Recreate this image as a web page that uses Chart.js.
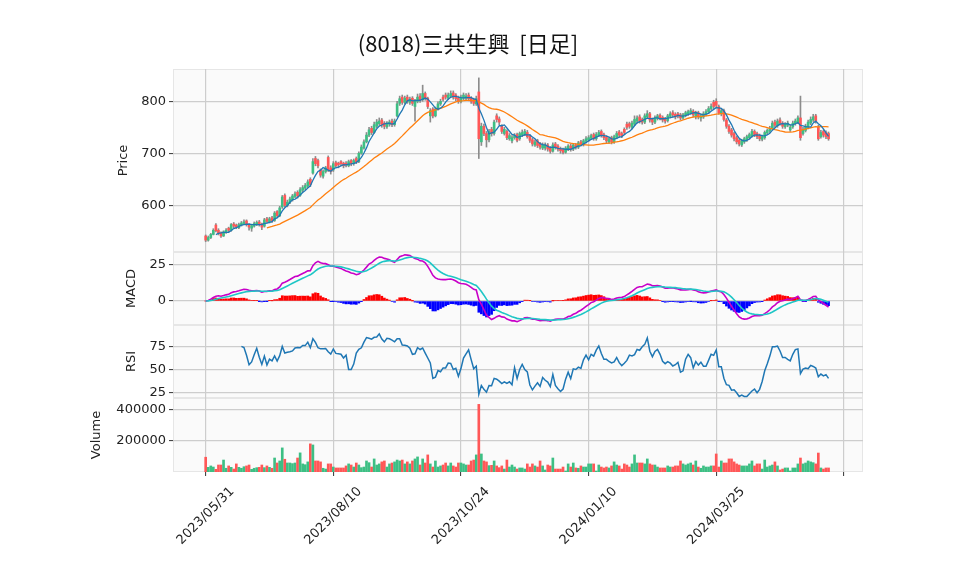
<!DOCTYPE html>
<html><head><meta charset="utf-8">
<script src="https://cdn.jsdelivr.net/npm/chart.js@4.4.1/dist/chart.umd.min.js"></script>
<style>
html,body{margin:0;padding:0;background:#fff;}
#wrap{position:relative;width:958px;height:575px;overflow:hidden;}
canvas{position:absolute;left:0;top:0;}
</style></head><body>
<div id="wrap">
<canvas id="cPrice" width="958" height="575"></canvas>
<canvas id="cMacd" width="958" height="575"></canvas>
<canvas id="cRsi" width="958" height="575"></canvas>
<canvas id="cVol" width="958" height="575"></canvas>
</div>
<script>
const chartTitle = '(8018)三共生興  [日足]';
const tickIndex = [0, 50, 100, 150, 200, 250];
const tickLabels = ['2023/05/31', '2023/08/10', '2023/10/24', '2024/01/10', '2024/03/25', ''];
const priceTicks = [600, 700, 800];
const macdTicks = [0, 25];
const rsiTicks = [25, 50, 75];
const volTicks = [200000, 400000];

const opens = [
541,533,538,544,562,552,547,541,548,556,
552,564,562,557,562,565,570,563,556,560,
563,568,564,560,574,568,576,571,588,580,
597,619,600,606,611,617,625,619,629,633,
637,650,662,690,686,668,656,665,692,672,
668,682,681,684,681,681,676,686,680,690,
684,700,710,722,735,748,740,752,757,764,
758,751,756,762,755,772,796,808,798,808,
798,806,790,800,810,803,815,806,772,785,
772,786,795,808,812,806,810,816,812,806,
800,806,806,812,806,803,795,818,722,752,
738,726,746,738,772,766,752,738,742,728,
724,730,736,728,735,737,740,733,726,716,
724,718,710,710,716,710,704,718,714,709,
707,702,708,714,708,716,712,722,717,723,
726,729,736,728,735,742,736,731,722,730,
722,731,741,738,746,756,757,750,756,762,
770,765,760,770,776,765,760,767,773,769,
766,763,771,778,775,776,774,768,773,776,
778,781,770,778,768,770,775,780,786,798,
800,790,776,782,764,752,745,738,730,725,
716,722,726,730,734,742,738,734,727,730,
739,743,748,760,753,764,758,751,754,745,
751,757,760,768,738,744,750,758,764,772,
750,732,742,740,738];
const highs = [
543,541,546,555,565,555,549,551,555,558,
565,567,564,566,569,572,572,565,563,568,
570,571,566,575,577,577,579,588,590,598,
619,622,610,616,621,626,628,634,638,642,
649,653,690,694,689,670,668,675,695,676,
684,685,683,686,683,684,687,688,689,693,
703,716,726,740,750,752,760,765,768,767,
761,761,764,766,766,800,810,812,810,812,
808,809,804,814,815,831,818,808,786,788,
789,799,804,812,816,816,820,820,815,810,
812,816,815,816,809,806,810,845,758,756,
742,746,750,764,776,770,755,750,745,738,
734,738,739,741,745,746,744,736,729,726,
727,721,720,720,719,713,720,721,717,712,
710,713,717,718,719,719,723,725,727,732,
734,737,739,740,744,745,739,734,731,733,
735,742,744,741,749,760,760,762,772,772,
774,768,776,782,779,768,772,775,776,772,
769,775,780,782,778,779,777,777,781,783,
786,784,781,781,776,780,784,790,795,802,
805,793,786,785,767,755,748,741,733,728,
727,731,735,739,746,745,741,737,735,743,
747,752,762,764,766,768,761,759,762,754,
762,766,772,810,750,756,764,770,775,775,
754,744,745,743,741];
const lows = [
530,531,536,543,549,543,538,540,546,549,
550,557,555,555,560,563,560,552,550,558,
561,560,553,558,566,566,567,569,576,578,
594,597,597,603,608,614,614,617,626,630,
634,636,660,676,672,654,652,662,665,660,
665,673,672,676,672,674,674,676,677,680,
682,698,708,720,732,736,738,749,754,750,
747,748,752,751,752,770,792,794,795,796,
794,792,762,797,798,800,802,786,760,768,
770,783,792,800,804,803,807,804,801,796,
797,803,803,801,796,792,792,690,715,734,
712,722,733,735,760,755,738,735,726,725,
720,727,722,725,732,734,729,721,714,713,
711,708,707,706,704,700,702,708,704,700,
699,700,705,704,705,708,709,714,714,720,
723,726,725,725,732,731,726,720,719,718,
719,728,731,730,736,746,748,747,753,758,
758,756,757,767,760,755,757,764,764,760,
758,760,768,770,766,768,764,765,770,773,
775,770,766,766,762,767,772,777,783,786,
788,775,772,762,748,738,731,724,718,714,
713,719,723,727,731,732,728,724,724,727,
736,740,745,750,750,754,748,748,751,742,
748,754,757,725,735,741,747,755,761,758,
725,729,731,728,725];
const closes = [
533,538,544,552,551,546,541,549,552,552,
563,560,558,563,566,568,563,558,561,565,
567,563,558,572,569,574,570,585,580,595,
616,600,606,612,618,622,618,630,634,638,
645,640,684,680,676,658,665,672,668,665,
680,676,678,680,676,678,684,680,686,683,
700,712,722,735,745,740,755,760,762,755,
752,758,760,755,762,795,805,798,806,800,
804,796,800,808,802,815,806,790,782,772,
785,795,800,804,808,812,815,808,805,800,
808,812,810,805,800,796,805,728,752,738,
726,742,738,760,765,760,742,746,730,734,
730,734,725,738,740,742,732,725,718,722,
715,712,716,716,708,704,716,712,708,705,
702,710,714,708,716,712,720,718,724,728,
730,734,728,736,740,735,730,724,728,722,
732,738,735,734,740,750,752,758,765,768,
762,760,772,776,764,760,768,772,768,764,
762,772,776,774,770,772,768,774,778,780,
782,774,778,770,772,776,780,786,790,790,
792,778,782,765,752,742,735,728,722,718,
724,728,732,736,742,736,732,728,732,740,
744,748,758,754,762,758,752,756,758,750,
758,762,768,730,745,752,760,765,770,762,
728,740,735,732,728];
const volumes = [
95000,30000,39000,32000,17000,45000,45000,77000,24000,39000,
30000,19000,52000,30000,24000,34000,39000,45000,17000,24000,
28000,30000,45000,28000,39000,30000,24000,90000,58000,71000,
155000,82000,58000,58000,54000,58000,90000,123000,52000,47000,
65000,181000,174000,71000,71000,65000,24000,19000,52000,52000,
32000,26000,26000,26000,26000,39000,52000,45000,32000,58000,
45000,28000,32000,71000,60000,32000,84000,45000,52000,65000,
71000,32000,52000,58000,65000,77000,71000,77000,52000,65000,
52000,71000,84000,97000,45000,84000,58000,110000,52000,32000,
71000,32000,39000,45000,58000,39000,58000,39000,32000,58000,
58000,52000,45000,45000,71000,77000,110000,435000,116000,71000,
65000,41000,43000,71000,39000,28000,39000,19000,77000,32000,
45000,32000,19000,26000,26000,19000,52000,32000,52000,39000,
32000,71000,39000,13000,45000,39000,90000,19000,19000,19000,
32000,6500,52000,32000,58000,26000,24000,39000,32000,32000,
52000,52000,52000,6500,45000,32000,26000,32000,26000,39000,
65000,45000,39000,19000,52000,45000,32000,52000,110000,58000,
58000,58000,52000,84000,52000,45000,45000,32000,26000,26000,
26000,39000,32000,32000,39000,39000,71000,52000,45000,52000,
58000,45000,71000,32000,24000,39000,32000,32000,39000,39000,
116000,32000,71000,58000,58000,84000,84000,65000,52000,45000,
39000,39000,39000,52000,71000,39000,52000,52000,19000,77000,
32000,39000,45000,65000,39000,13000,19000,26000,26000,6500,
26000,26000,52000,90000,52000,58000,71000,65000,60000,52000,
122000,26000,19000,26000,26000];

// ---- derived indicators (computed from the closes, as the original does) ----
function sma(arr, n) {
  return arr.map((_, i) => i < n - 1 ? null : arr.slice(i - n + 1, i + 1).reduce((a, b) => a + b, 0) / n);
}
function ema(arr, n) {
  const k = 2 / (n + 1), out = [];
  arr.forEach((v, i) => out.push(i === 0 ? v : out[i - 1] + k * (v - out[i - 1])));
  return out;
}
const ma5 = sma(closes, 5);
const ma25 = sma(closes, 25);
const ema12 = ema(closes, 12), ema26 = ema(closes, 26);
const macd = closes.map((_, i) => ema12[i] - ema26[i]);
const signal = ema(macd, 9);
const hist = macd.map((m, i) => m - signal[i]);
const rsi = closes.map((_, i) => {
  if (i < 14) return null;
  let g = 0, l = 0;
  for (let j = i - 13; j <= i; j++) {
    const d = closes[j] - closes[j - 1];
    if (d > 0) g += d; else l -= d;
  }
  if (l === 0) return 100;
  return 100 - 100 / (1 + g / l);
});

const UP = '#3dbf84', DOWN = '#ff5757';
const candleColors = closes.map((c, i) => c >= opens[i] ? UP : DOWN);
const pts = (arr) => arr.map((v, i) => ({x: i, y: v})).filter(p => p.y !== null);

Chart.defaults.font.family = '"DejaVu Sans", sans-serif';
Chart.defaults.font.size = 13;
Chart.defaults.color = '#222';

const X_MIN = -12.8, X_MAX = 257.5;
const LEFT_W = 173, PAD_RIGHT = 95;
const GRID = '#cdcdcd';

const panelBg = {
  id: 'panelBg',
  beforeDraw(chart) {
    const a = chart.chartArea, ctx = chart.ctx;
    ctx.save();
    ctx.fillStyle = '#fafafa';
    ctx.fillRect(a.left, a.top, a.right - a.left, a.bottom - a.top);
    ctx.strokeStyle = '#e6e6e6';
    ctx.lineWidth = 1;
    ctx.strokeRect(a.left + 0.5, a.top + 0.5, a.right - a.left - 1, a.bottom - a.top - 1);
    ctx.restore();
  }
};

function xScale(bottom) {
  return {
    type: 'linear', min: X_MIN, max: X_MAX, offset: false,
    border: {display: false},
    grid: {offset: false, color: GRID, lineWidth: 1.2, drawTicks: bottom, tickLength: 4, tickColor: '#333', tickWidth: 1},
    ticks: {display: false, autoSkip: false},
    afterBuildTicks: (ax) => { ax.ticks = tickIndex.map(v => ({value: v})); },
    afterFit: (ax) => { ax.height = bottom ? 575 - 472 : 0; }
  };
}
function yScale(min, max, ticks, title, titlePad) {
  return {
    type: 'linear', position: 'left', min: min, max: max,
    border: {display: false},
    grid: {offset: false, color: GRID, lineWidth: 1.2, drawTicks: true, tickLength: 4, tickColor: '#333', tickWidth: 1},
    ticks: {padding: 3, color: '#222', autoSkip: false, callback: (v) => String(v)},
    afterBuildTicks: (ax) => { ax.ticks = ticks.map(v => ({value: v})); },
    afterFit: (ax) => { ax.width = LEFT_W; },
    title: {display: true, text: title, color: '#222', font: {size: 13}, padding: {top: titlePad, bottom: 0}}
  };
}
function baseOptions(top, bottom, yOpts, isBottom) {
  return {
    responsive: false, animation: false, events: [],
    layout: {padding: {left: 0, right: PAD_RIGHT, top: top, bottom: 575 - bottom - (isBottom ? 103 : 0)}},
    plugins: {legend: {display: false}, tooltip: {enabled: false}, title: {display: false}},
    scales: {x: xScale(isBottom), y: yOpts}
  };
}

const titlePlugin = {
  id: 'mainTitle',
  afterDraw(chart) {
    const ctx = chart.ctx;
    ctx.save();
    ctx.font = '22px "Noto Sans CJK JP", sans-serif';
    ctx.fillStyle = '#111';
    ctx.textAlign = 'center';
    ctx.textBaseline = 'middle';
    ctx.fillText(chartTitle, 468, 44);
    ctx.restore();
  }
};

const xLabelPlugin = {
  id: 'xLabels',
  afterDraw(chart) {
    const ctx = chart.ctx, xs = chart.scales.x;
    ctx.save();
    ctx.font = '13px "DejaVu Sans", sans-serif';
    ctx.fillStyle = '#222';
    ctx.textAlign = 'center';
    ctx.textBaseline = 'middle';
    tickIndex.forEach((v, k) => {
      if (!tickLabels[k]) return;
      ctx.save();
      ctx.translate(xs.getPixelForValue(v), 516);
      ctx.rotate(-Math.PI / 4);
      ctx.fillText(tickLabels[k], 0, 0);
      ctx.restore();
    });
    ctx.restore();
  }
};

// Price panel
new Chart(document.getElementById('cPrice'), {
  type: 'bar',
  data: {datasets: [
    {type: 'line', data: pts(ma5), borderColor: '#1f77b4', borderWidth: 1.3, pointRadius: 0, order: 0},
    {type: 'line', data: pts(ma25), borderColor: '#ff7f0e', borderWidth: 1.3, pointRadius: 0, order: 1},
    {type: 'bar', data: closes.map((c, i) => ({x: i, y: [Math.min(c, opens[i]), Math.max(c, opens[i])]})),
     backgroundColor: candleColors, barThickness: 2, grouped: false, borderWidth: 0, order: 2},
    {type: 'bar', data: closes.map((c, i) => ({x: i, y: [lows[i], highs[i]]})),
     backgroundColor: '#8c8c8c', barThickness: 1, grouped: false, borderWidth: 0, order: 3}
  ]},
  options: baseOptions(69, 252, yScale(510.2, 862.1, priceTicks, 'Price', 115.7), false),
  plugins: [panelBg, titlePlugin]
});

// MACD panel
new Chart(document.getElementById('cMacd'), {
  type: 'bar',
  data: {datasets: [
    {type: 'line', data: pts(signal), borderColor: '#1fc6c6', borderWidth: 1.6, pointRadius: 0, order: 0},
    {type: 'line', data: pts(macd), borderColor: '#c800c8', borderWidth: 1.6, pointRadius: 0, order: 1},
    {type: 'bar', data: pts(hist), backgroundColor: hist.map(h => h >= 0 ? '#ff0000' : '#0000ff'),
     barThickness: 2, grouped: false, borderWidth: 0, order: 2}
  ]},
  options: baseOptions(252, 325, yScale(-16.35, 33.4, macdTicks, 'MACD', 124.2), false),
  plugins: [panelBg]
});

// RSI panel
new Chart(document.getElementById('cRsi'), {
  type: 'line',
  data: {datasets: [
    {data: pts(rsi), borderColor: '#1f77b4', borderWidth: 1.5, pointRadius: 0}
  ]},
  options: baseOptions(325, 398, yScale(18.75, 98.8, rsiTicks, 'RSI', 124.2), false),
  plugins: [panelBg]
});

// Volume panel
new Chart(document.getElementById('cVol'), {
  type: 'bar',
  data: {datasets: [
    {data: pts(volumes), backgroundColor: candleColors, barThickness: 2, grouped: false, borderWidth: 0}
  ]},
  options: baseOptions(398, 472, yScale(0, 476000, volTicks, 'Volume', 89.2), true),
  plugins: [panelBg, xLabelPlugin]
});
</script>
</body></html>
